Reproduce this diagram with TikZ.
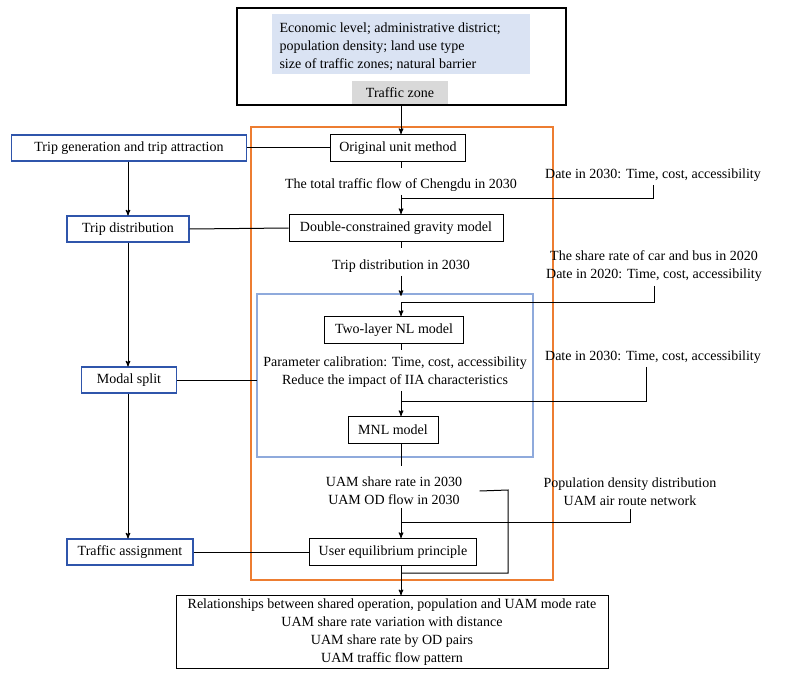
\documentclass[tikz,border=0pt]{standalone}
\usepackage{fontspec}
\setmainfont{Liberation Serif}
\usetikzlibrary{arrows,positioning,calc}
\definecolor{zoneblue}{RGB}{218,227,243}
\definecolor{zonegray}{RGB}{217,217,217}
\definecolor{frameor}{RGB}{237,125,49}
\definecolor{frameblue}{RGB}{143,170,220}
\definecolor{stepblue}{RGB}{47,85,171}
\tikzset{
  box/.style={draw=black,line width=1pt,minimum height=27pt,inner sep=2pt,font=\fontsize{14}{16}\selectfont},
  stage/.style={draw=stepblue,line width=1.1pt,minimum height=26pt,inner sep=2pt,font=\fontsize{14}{16}\selectfont},
  txt/.style={align=center,font=\fontsize{14}{18}\selectfont},
  arr/.style={->,>=stealth',line width=1pt},
  ln/.style={line width=1pt}
}
\begin{document}
\begin{tikzpicture}[x=1pt,y=-1pt]
\useasboundingbox (0,0) rectangle (800,679);
% traffic zone
\fill[zoneblue] (272,14) rectangle (530,74);
\node[txt,align=left,anchor=west] (zonetxt) at (276,47) {Economic level; administrative district;\\population density; land use type\\size of traffic zones; natural barrier};
\node[fill=zonegray,minimum width=96pt,minimum height=23pt,font=\fontsize{14}{16}\selectfont] (zone) at (400,93) {Traffic zone};
\draw[line width=1.8pt] (237,8) rectangle (566,105);
\coordinate (zonebot) at (401,105);
% frames
\draw[frameor,line width=1.2pt] (251,127) rectangle (553,580);
\draw[frameblue,line width=1.2pt] (257,294) rectangle (533,457);
% main chain
\node[box,minimum width=135pt] (orig) at (398,148) {Original unit method};
\node[txt] (flow) at (401,185) {The total traffic flow of Chengdu in 2030};
\node[box,minimum width=214pt] (gravity) at (396,228) {Double-constrained gravity model};
\node[txt] (tripd) at (401,266) {Trip distribution in 2030};
\node[box,minimum width=139pt] (nl) at (394,330) {Two-layer NL model};
\node[txt] (calib) at (395,372) {Parameter calibration: Time, cost, accessibility\\Reduce the impact of IIA characteristics};
\node[box,minimum width=90pt] (mnl) at (393,430) {MNL model};
\node[txt] (uamrate) at (394,491) {UAM share rate in 2030\\UAM OD flow in 2030};
\node[box,minimum width=167pt] (ue) at (393,552) {User equilibrium principle};
\node[box,txt,minimum width=432pt,inner sep=3pt] (result) at (392,632) {Relationships between shared operation, population and UAM mode rate\\UAM share rate variation with distance\\UAM share rate by OD pairs\\UAM traffic flow pattern};
% inputs on the right
\node[txt] (in1) at (653,175) {Date in 2030: Time, cost, accessibility};
\node[txt] (in2) at (654,266) {The share rate of car and bus in 2020\\Date in 2020: Time, cost, accessibility};
\node[txt] (in3) at (653,357) {Date in 2030: Time, cost, accessibility};
\node[txt] (in4) at (630,492) {Population density distribution\\UAM air route network};
% steps on the left
\node[stage,minimum width=235pt] (gen) at (129,148) {Trip generation and trip attraction};
\node[stage,minimum width=122pt] (dist) at (128,229) {Trip distribution};
\node[stage,minimum width=95pt] (modal) at (129,380) {Modal split};
\node[stage,minimum width=126pt] (assign) at (130,552) {Traffic assignment};
\coordinate (col) at (128,0);
% connectors
\draw[arr] (zonebot) -- (orig.north -| zonebot);
\draw[ln] (orig.south -| zonebot) -- ++(0,6);
\draw[arr] (flow.south -| zonebot) -- (gravity.north -| zonebot);
\draw[ln] (gravity.south -| zonebot) -- ++(0,6);
\draw[arr] (tripd.south -| zonebot) -- ++(0,20);
\draw[ln] (nl.south -| zonebot) -- ++(0,6);
\draw[arr] (calib.south -| zonebot) -- (mnl.north -| zonebot);
\draw[ln] (mnl.south -| zonebot) -- ++(0,22);
\draw[arr] (uamrate.south -| zonebot) -- (ue.north -| zonebot);
\draw[arr] (ue.south -| zonebot) -- (result.north -| zonebot);
\draw[ln] (in1.south) -- ++(0,14) -| ($(gravity.north -| zonebot)+(0,-14)$);
\draw[arr] (in2.south) ++(0,1) |- (401,302) -- (nl.north -| zonebot);
\draw[ln] (in3.south) ++(-7,0) |- (401,401);
\draw[ln] (in4.south) -- ++(0,13) -| ($(ue.north -| zonebot)+(0,-12)$);
\draw[ln] (uamrate.east) ++(14,0) -- (508,490) |- ($(ue.south -| zonebot)+(0,7)$);
\draw[arr] (gen.south -| col) -- (dist.north -| col);
\draw[arr] (dist.south -| col) -- (modal.north -| col);
\draw[arr] (modal.south -| col) -- (assign.north -| col);
\draw[ln] (gen.east) -- (orig.west);
\draw[ln] (dist.east) -- (gravity.west);
\draw[ln] (modal.east) -- (257,380);
\draw[ln] (assign.east) -- (ue.west);
\end{tikzpicture}
\end{document}
